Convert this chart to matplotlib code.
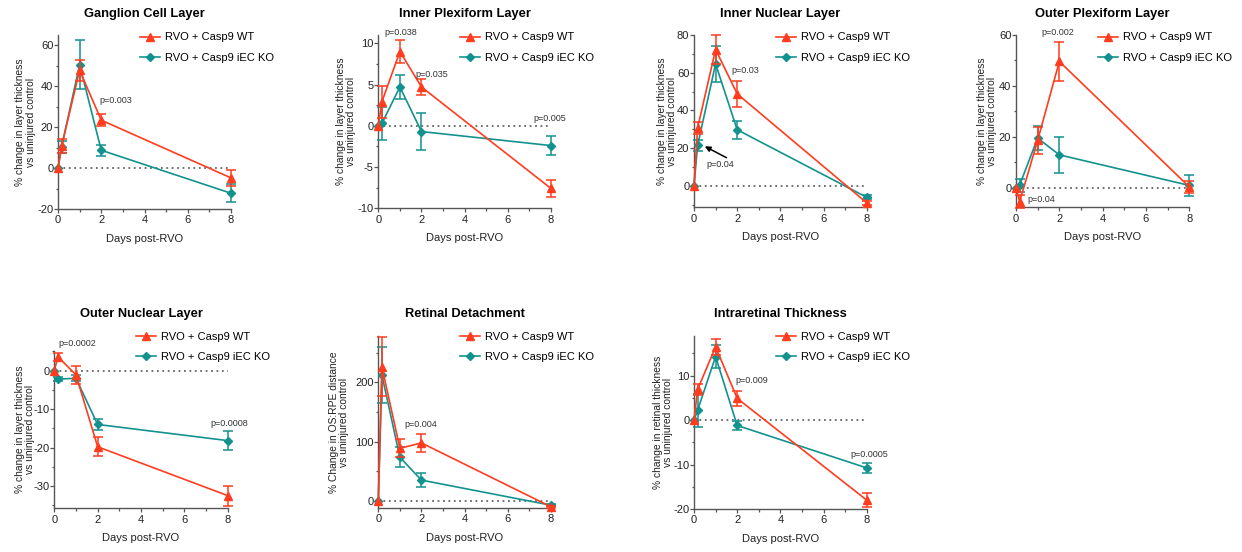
import numpy as np
import matplotlib
matplotlib.use('Agg')
import matplotlib.pyplot as plt
from matplotlib.ticker import MultipleLocator
from matplotlib.lines import Line2D

##########################################################
# Data
##########################################################

days = [0, 0.167, 1, 2, 8]

titles = ['Ganglion Cell Layer', 'Inner Plexiform Layer', 'Inner Nuclear Layer',
          'Outer Plexiform Layer', 'Outer Nuclear Layer', 'Retinal Detachment',
          'Intraretinal Thickness']
legend_labels = ['RVO + Casp9 WT', 'RVO + Casp9 iEC KO']
xlab = 'Days post-RVO'
ylab_layer = '% change in layer thickness\nvs uninjured control'
ylab_rd = '% Change in OS:RPE distance\nvs uninjured control'
ylab_irt = '% change in retinal thickness\nvs uninjured control'

gcl_wt = [0, 10.8, 47.7, 23.4, -4.8]
gcl_wt_err = [0, 3.5, 5.3, 3.0, 4.0]
gcl_ko = [0, 10.3, 50.5, 8.7, -12.3]
gcl_ko_err = [0, 3.0, 12.0, 2.6, 4.3]

ipl_wt = [0, 2.9, 9.0, 4.7, -7.6]
ipl_wt_err = [0, 1.9, 1.4, 1.0, 1.0]
ipl_ko = [0, 0.3, 4.7, -0.7, -2.4]
ipl_ko_err = [0, 2.0, 1.45, 2.2, 1.2]

inl_wt = [0, 30.7, 72.3, 48.8, -8.9]
inl_wt_err = [0, 3.0, 7.5, 6.8, 1.0]
inl_ko = [0, 21.5, 64.7, 29.8, -6.0]
inl_ko_err = [0, 3.0, 9.5, 4.8, 1.0]

opl_wt = [0, -5.5, 18.6, 49.6, 0.3]
opl_wt_err = [0, 2.5, 5.4, 7.6, 2.5]
opl_ko = [0, 1.0, 19.5, 12.9, 0.9]
opl_ko_err = [0, 2.5, 4.8, 7.0, 4.0]

onl_wt = [0, 3.6, -1.1, -19.8, -32.5]
onl_wt_err = [0, 1.1, 2.4, 2.5, 2.6]
onl_ko = [0, -2.2, -2.0, -14.0, -18.2]
onl_ko_err = [0, 0.5, 0.8, 1.5, 2.4]

rd_wt = [0, 226, 88.7, 97.7, -10]
rd_wt_err = [0, 50, 15, 15, 2]
rd_ko = [0, 212, 73.4, 35, -7.3]
rd_ko_err = [0, 47, 17, 12, 2]

irt_wt = [0, 6.9, 16.5, 4.9, -18.0]
irt_wt_err = [0, 1.2, 1.8, 1.7, 1.5]
irt_ko = [0, 2.2, 14.3, -1.2, -10.75]
irt_ko_err = [0, 3.7, 2.5, 1.0, 1.1]

pvals = [
    [('p=0.003', 2.66, 32.8)],
    [('p=0.038', 1.02, 11.3), ('p=0.035', 2.47, 6.2), ('p=0.005', 7.94, 0.9)],
    [('p=0.03', 2.37, 61.4), ('p=0.04', 1.23, 11.6)],
    [('p=0.002', 1.95, 60.9), ('p=0.04', 1.18, -4.6)],
    [('p=0.0002', 1.06, 7.1), ('p=0.0008', 8.06, -13.7)],
    [('p=0.004', 1.99, 128)],
    [('p=0.009', 2.69, 9.0), ('p=0.0005', 8.1, -7.7)],
]

##########################################################
# Layout
##########################################################

plt.rcParams['font.family'] = ['Liberation Sans', 'DejaVu Sans']
plt.rcParams['axes.unicode_minus'] = False

W, H = 1242, 552
RED = '#FF3C1E'
TEAL = '#12928F'
SPINE = '#555555'

# axes boxes in pixels: left, top, right, bottom
boxes = [(58, 35, 231, 209), (378.3, 35, 551, 208.3), (694, 35, 866.7, 207.3),
         (1016, 35, 1189.3, 207.3), (54.3, 351, 227.7, 508.3),
         (378.3, 336, 551, 508), (694, 335.7, 866.7, 509)]
ylims = [(-20, 65), (-10, 11), (-11.3, 80), (-7.7, 60), (-35.8, 5.1),
         (-12, 278), (-20, 19)]
ysteps = [20, 5, 20, 20, 10, 100, 10]
ylab_off = [22.5, 22, 17, 19, 19, 29, 21]

series = [
    (gcl_wt, gcl_wt_err, gcl_ko, gcl_ko_err, ylab_layer),
    (ipl_wt, ipl_wt_err, ipl_ko, ipl_ko_err, ylab_layer),
    (inl_wt, inl_wt_err, inl_ko, inl_ko_err, ylab_layer),
    (opl_wt, opl_wt_err, opl_ko, opl_ko_err, ylab_layer),
    (onl_wt, onl_wt_err, onl_ko, onl_ko_err, ylab_layer),
    (rd_wt, rd_wt_err, rd_ko, rd_ko_err, ylab_rd),
    (irt_wt, irt_wt_err, irt_ko, irt_ko_err, ylab_irt),
]

fig = plt.figure(figsize=(W / 100, H / 100), dpi=100)


def draw_series(ax, x, y, err, color, marker, ms):
    x, y, err = np.array(x), np.array(y), np.array(err)
    ax.plot(x, y, color=color, lw=1.2, marker=marker, ms=ms, clip_on=False, zorder=3)
    m = err > 0
    ax.errorbar(x[m], y[m], yerr=err[m], fmt='none', ecolor=color, elinewidth=1.1,
                capsize=3.3, capthick=1.1, clip_on=False, zorder=3)


for i, (box, (wt, wt_err, ko, ko_err, ylab)) in enumerate(zip(boxes, series)):
    l, t, r, b = box
    ax = fig.add_axes([l / W, 1 - b / H, (r - l) / W, (b - t) / H])
    axw, axh = r - l, b - t

    ax.plot([0, 8], [0, 0], color='#666666', lw=1.3, ls=(0, (1, 2)), zorder=1)
    draw_series(ax, days, ko, ko_err, TEAL, 'D', 3.8)
    draw_series(ax, days, wt, wt_err, RED, '^', 5.8)

    ax.set_xlim(0, 8)
    ax.set_ylim(*ylims[i])
    ax.xaxis.set_major_locator(MultipleLocator(2))
    ax.xaxis.set_minor_locator(MultipleLocator(1))
    ax.yaxis.set_major_locator(MultipleLocator(ysteps[i]))
    ax.yaxis.set_minor_locator(MultipleLocator(ysteps[i] / 2))

    for s in ['top', 'right']:
        ax.spines[s].set_visible(False)
    for s in ['left', 'bottom']:
        ax.spines[s].set_color(SPINE)
        ax.spines[s].set_linewidth(1.0)
    ax.tick_params(which='major', length=2.6, width=0.9, color=SPINE,
                   labelsize=8, labelcolor='#222222', pad=0.8)
    ax.tick_params(which='minor', length=1.8, width=0.9, color=SPINE)
    ax.tick_params(axis='x', which='major', pad=2)

    ax.set_xlabel(xlab, fontsize=8, color='#222222', va='center')
    ax.xaxis.set_label_coords(0.5, -30 / axh)
    ax.set_ylabel(ylab, fontsize=7.4, color='#222222', linespacing=1.05)
    ax.yaxis.set_label_coords(-ylab_off[i] / axw, 0.5)

    ty = 14 if t < 100 else 314
    fig.text((l + r) / 2 / W, 1 - ty / H, titles[i], ha='center', va='center',
             fontsize=9.3, fontweight='bold')

    for txt, px, py in pvals[i]:
        ax.text(px, py, txt, ha='center', va='center', fontsize=6.5,
                color='#333333', clip_on=False)

    # legend
    handles = [Line2D([], [], color=RED, lw=1.2, marker='^', ms=5.8),
               Line2D([], [], color=TEAL, lw=1.2, marker='D', ms=3.8)]
    ly = 32.5 if t < 100 else 331.5
    ax.legend(handles, legend_labels, loc='upper left', frameon=False,
              bbox_to_anchor=((l + 82) / W, 1 - ly / H), bbox_transform=fig.transFigure,
              fontsize=8, borderpad=0, borderaxespad=0, handlelength=1.8,
              handletextpad=0.45, labelspacing=0.95)

# arrow in Inner Nuclear Layer panel
fig.axes[2].annotate('', xy=(0.5, 21), xytext=(1.5, 15),
                     arrowprops=dict(arrowstyle='-|>', color='k', lw=1.1,
                                     mutation_scale=8, shrinkA=0, shrinkB=0))

plt.savefig('out.png', dpi=100)
